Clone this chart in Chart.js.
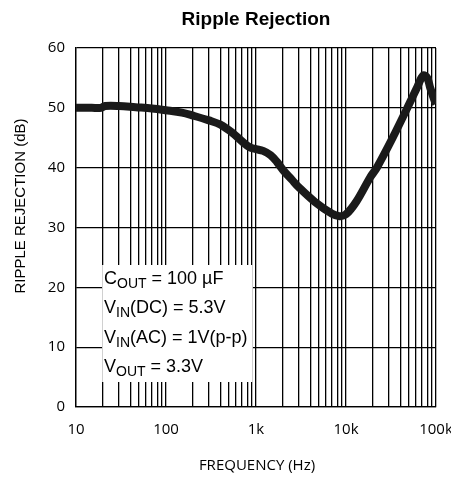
<!DOCTYPE html>
<html>
<head>
<meta charset="utf-8">
<script src="https://cdn.jsdelivr.net/npm/chart.js@4/dist/chart.umd.min.js"></script>
<style>
  html, body { margin: 0; padding: 0; background: #fff; }
  canvas { display: block; }
</style>
</head>
<body>
<canvas id="rippleChart" width="451" height="477"></canvas>
<script>
// values (frequency in Hz, rejection in dB)
const freqs = [10, 15, 19, 21, 30, 46, 70, 100, 150, 200, 300, 400, 560, 700, 850, 1000, 1200,
  1450, 1700, 2000, 2500, 3000, 4500, 7000, 8500, 10000, 13000, 18600, 22000,
  33000, 51000, 62000, 72000, 80000, 86000, 98000, 100000];
const rejection = [50.0, 50.0, 50.0, 50.3, 50.3, 50.1, 49.9, 49.6, 49.2, 48.7, 47.9, 47.2, 45.7, 44.4, 43.4, 43.1, 42.8,
  42.1, 41.0, 39.6, 38.0, 36.7, 34.3, 32.3, 31.9, 32.2, 34.3, 38.4, 40.0,
  45.0, 50.8, 53.5, 55.4, 55.0, 53.4, 50.9, 50.7];

const xTickValues = [10, 100, 1000, 10000, 100000];
const xTickLabels = ["10", "100", "1k", "10k", "100k"];
const yTicks = [0, 10, 20, 30, 40, 50, 60];

const noteLines = [
  ["C", "OUT", " = 100 \u00b5F"],
  ["V", "IN", "(DC) = 5.3V"],
  ["V", "IN", "(AC) = 1V(p-p)"],
  ["V", "OUT", " = 3.3V"]
];

// every 1..9 multiple per decade for the grid
const gridValues = [];
for (let d = 10; d < 100000; d *= 10) {
  for (let m = 1; m < 10; m++) gridValues.push(d * m);
}
gridValues.push(100000);

const extras = {
  id: "extras",
  afterDraw(chart) {
    const ctx = chart.ctx;
    const area = chart.chartArea;
    ctx.save();

    // title
    ctx.fillStyle = "#000";
    ctx.font = "bold 19px 'Liberation Sans', Arial, sans-serif";
    ctx.textAlign = "center";
    ctx.textBaseline = "middle";
    ctx.fillText("Ripple Rejection", (area.left + area.right) / 2, 20);

    // x title
    ctx.font = "15px 'Open Sans', sans-serif";
    ctx.fillText("FREQUENCY (Hz)", 257, 466);

    // y title
    ctx.save();
    ctx.translate(21, 206);
    ctx.rotate(-Math.PI / 2);
    ctx.font = "15px 'Liberation Sans', Arial, sans-serif";
    ctx.fillText("RIPPLE REJECTION (dB)", 0, 0);
    ctx.restore();

    // conditions box
    const bx = 102, by = 265, bw = 151, bh = 117;
    ctx.fillStyle = "#fff";
    ctx.fillRect(bx, by, bw, bh);
    ctx.strokeStyle = "#d0d0d0";
    ctx.lineWidth = 1;
    ctx.beginPath();
    ctx.moveTo(bx + 0.5, by); ctx.lineTo(bx + 0.5, by + bh);
    ctx.moveTo(bx + bw - 0.5, by); ctx.lineTo(bx + bw - 0.5, by + bh);
    ctx.stroke();

    ctx.fillStyle = "#000";
    ctx.textAlign = "left";
    ctx.textBaseline = "alphabetic";
    noteLines.forEach((parts, i) => {
      const y = 284 + i * 29.3;
      let x = 104;
      ctx.font = "18px 'Liberation Sans', Arial, sans-serif";
      ctx.fillText(parts[0], x, y);
      x += ctx.measureText(parts[0]).width;
      ctx.font = "14px 'Liberation Sans', Arial, sans-serif";
      ctx.fillText(parts[1], x, y + 4);
      x += ctx.measureText(parts[1]).width;
      ctx.font = "18px 'Liberation Sans', Arial, sans-serif";
      ctx.fillText(parts[2], x, y);
    });

    ctx.restore();
  }
};

new Chart(document.getElementById("rippleChart"), {
  type: "line",
  data: {
    datasets: [{
      data: freqs.map((f, i) => ({ x: f, y: rejection[i] })),
      borderColor: "#1a1a1a",
      borderWidth: 8,
      pointRadius: 0,
      fill: false,
      tension: 0.35
    }]
  },
  options: {
    responsive: false,
    animation: false,
    layout: { padding: { top: 48, right: 15, left: 0, bottom: 0 } },
    plugins: { legend: { display: false }, title: { display: false }, tooltip: { enabled: false } },
    scales: {
      x: {
        type: "logarithmic",
        min: 10,
        max: 100000,
        afterBuildTicks(scale) {
          scale.ticks = gridValues.map(v => ({ value: v }));
        },
        afterFit(scale) {
          scale.height = 70;
          scale.paddingLeft = 0;
          scale.paddingRight = 0;
        },
        grid: { color: "#000", lineWidth: 1.3, drawTicks: false },
        border: { color: "#000", width: 1.3 },
        ticks: {
          autoSkip: false,
          maxRotation: 0,
          padding: 14,
          color: "#000",
          font: { family: "'Open Sans', sans-serif", size: 15 },
          callback(value) {
            const k = xTickValues.indexOf(value);
            return k >= 0 ? xTickLabels[k] : "";
          }
        }
      },
      y: {
        min: 0,
        max: 60,
        afterBuildTicks(scale) {
          scale.ticks = yTicks.map(v => ({ value: v }));
        },
        afterFit(scale) {
          scale.width = 76;
          scale.paddingTop = 0;
          scale.paddingBottom = 0;
        },
        grid: { color: "#000", lineWidth: 1.3, drawTicks: false },
        border: { color: "#000", width: 1.3 },
        ticks: {
          padding: 11,
          color: "#000",
          font: { family: "'Open Sans', sans-serif", size: 15 }
        }
      }
    }
  },
  plugins: [extras]
});
</script>
</body>
</html>
